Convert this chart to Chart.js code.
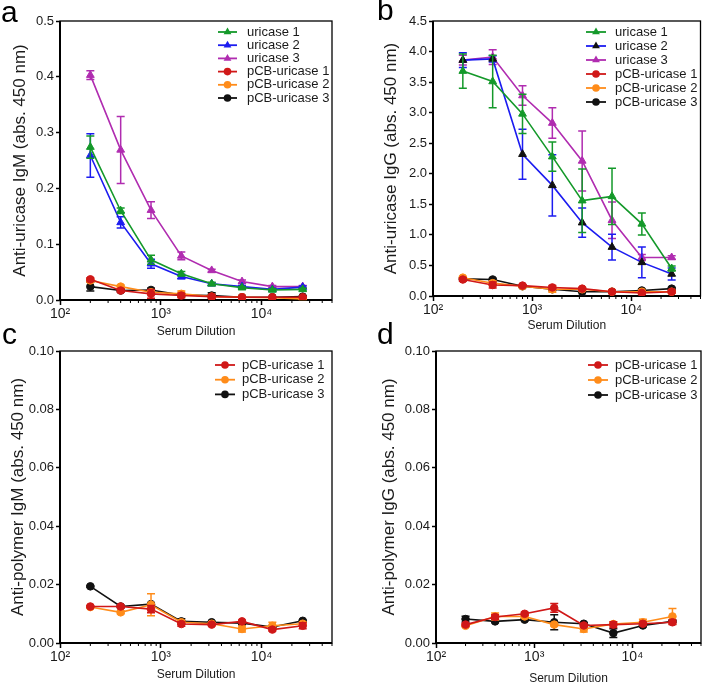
<!DOCTYPE html>
<html>
<head>
<meta charset="utf-8">
<script src="https://cdn.jsdelivr.net/npm/chart.js@4.4.1/dist/chart.umd.min.js"></script>
<style>
  body { margin: 0; background: #fff; width: 706px; height: 683px; position: relative; overflow: hidden;
         font-family: "Liberation Sans", Arial, sans-serif; }
  canvas { position: absolute; }
  .letter { position: absolute; font-size: 30px; line-height: 1; color: #000; }
</style>
</head>
<body>
<canvas id="chartA" width="353" height="340" style="left:0;top:0"></canvas>
<canvas id="chartB" width="353" height="340" style="left:353px;top:0"></canvas>
<canvas id="chartC" width="353" height="343" style="left:0;top:340px"></canvas>
<canvas id="chartD" width="353" height="343" style="left:353px;top:340px"></canvas>
<div class="letter" style="left:1px;top:-3px">a</div>
<div class="letter" style="left:377px;top:-5px">b</div>
<div class="letter" style="left:2px;top:319px">c</div>
<div class="letter" style="left:377px;top:319px">d</div>
<script>
// serum dilutions (x values) and axis ticks
const dilutions = [200, 400, 800, 1600, 3200, 6400, 12800, 25600];
const xTickValues = [100, 1000, 10000];
const xTickLabels = ['10\u00B2', '10\u00B3', '10\u2074'];
const minorTickValues = [200, 300, 400, 500, 600, 700, 800, 900,
  2000, 3000, 4000, 5000, 6000, 7000, 8000, 9000, 20000, 30000, 40000, 50000];

// panel a: anti-uricase IgM
const aUricase1 = [0.274, 0.160, 0.072, 0.047, 0.029, 0.022, 0.018, 0.019];
const aUricase1Err = [0.020, 0.005, 0.008, 0.004, 0.003, 0.002, 0.002, 0.002];
const aUricase2 = [0.259, 0.139, 0.065, 0.042, 0.029, 0.024, 0.019, 0.023];
const aUricase2Err = [0.039, 0.010, 0.008, 0.004, 0.002, 0.002, 0.002, 0.002];
const aUricase3 = [0.403, 0.269, 0.161, 0.079, 0.053, 0.033, 0.024, 0.024];
const aUricase3Err = [0.008, 0.060, 0.015, 0.007, 0.002, 0.003, 0.002, 0.002];
const aPcb1 = [0.037, 0.017, 0.011, 0.008, 0.006, 0.005, 0.005, 0.005];
const aPcb1Err = [0.003, 0.003, 0.008, 0.004, 0.003, 0.001, 0.001, 0.001];
const aPcb2 = [0.035, 0.024, 0.014, 0.011, 0.006, 0.005, 0.004, 0.002];
const aPcb2Err = [0.003, 0.003, 0.002, 0.005, 0.002, 0.001, 0.001, 0.001];
const aPcb3 = [0.024, 0.017, 0.018, 0.009, 0.008, 0.005, 0.005, 0.006];
const aPcb3Err = [0.008, 0.002, 0.003, 0.002, 0.005, 0.001, 0.001, 0.001];

// panel b: anti-uricase IgG
const bUricase1 = [3.68, 3.51, 2.98, 2.28, 1.56, 1.63, 1.18, 0.45];
const bUricase1Err = [0.28, 0.43, 0.32, 0.24, 0.52, 0.46, 0.18, 0.04];
const bUricase2 = [3.86, 3.88, 2.32, 1.81, 1.20, 0.80, 0.55, 0.36];
const bUricase2Err = [0.12, 0.05, 0.41, 0.50, 0.24, 0.21, 0.25, 0.10];
const bUricase3 = [3.86, 3.91, 3.28, 2.83, 2.21, 1.24, 0.63, 0.63];
const bUricase3Err = [0.08, 0.12, 0.16, 0.25, 0.49, 0.30, 0.05, 0.03];
const bPcb1 = [0.27, 0.18, 0.17, 0.14, 0.12, 0.07, 0.05, 0.07];
const bPcb1Err = [0.03, 0.05, 0.02, 0.03, 0.02, 0.02, 0.02, 0.02];
const bPcb2 = [0.30, 0.21, 0.16, 0.11, 0.11, 0.07, 0.07, 0.07];
const bPcb2Err = [0.02, 0.04, 0.02, 0.05, 0.02, 0.02, 0.02, 0.02];
const bPcb3 = [0.28, 0.27, 0.16, 0.11, 0.07, 0.07, 0.09, 0.12];
const bPcb3Err = [0.02, 0.02, 0.02, 0.02, 0.06, 0.02, 0.02, 0.02];

// panel c: anti-polymer IgM
const cPcb1 = [0.0125, 0.0125, 0.0116, 0.0065, 0.0063, 0.0074, 0.0046, 0.0059];
const cPcb1Err = [0.0003, 0.0004, 0.0012, 0.0008, 0.0004, 0.0004, 0.0005, 0.0010];
const cPcb2 = [0.0123, 0.0105, 0.0131, 0.0071, 0.0066, 0.0048, 0.0059, 0.0066];
const cPcb2Err = [0.0003, 0.0005, 0.0038, 0.0006, 0.0003, 0.0010, 0.0012, 0.0006];
const cPcb3 = [0.0194, 0.0125, 0.0133, 0.0074, 0.0071, 0.0068, 0.0055, 0.0076];
const cPcb3Err = [0.0003, 0.0003, 0.0005, 0.0009, 0.0003, 0.0003, 0.0003, 0.0003];

// panel d: anti-polymer IgG
const dPcb1 = [0.0063, 0.0089, 0.0100, 0.0120, 0.0060, 0.0063, 0.0066, 0.0071];
const dPcb1Err = [0.0005, 0.0008, 0.0005, 0.0015, 0.0004, 0.0010, 0.0006, 0.0008];
const dPcb2 = [0.0059, 0.0091, 0.0091, 0.0063, 0.0048, 0.0065, 0.0071, 0.0091];
const dPcb2Err = [0.0004, 0.0012, 0.0005, 0.0005, 0.0010, 0.0006, 0.0010, 0.0027];
const dPcb3 = [0.0082, 0.0074, 0.0080, 0.0071, 0.0066, 0.0034, 0.0060, 0.0074];
const dPcb3Err = [0.0010, 0.0004, 0.0004, 0.0026, 0.0004, 0.0015, 0.0004, 0.0004];

const green = '#14992a', blue = '#1c1cf0', purple = '#b02cb0',
      red = '#d01818', orange = '#ff8c1a', black = '#111111';

Chart.defaults.font.family = '"Liberation Sans", Arial, sans-serif';
Chart.defaults.color = '#1a1a1a';

function series(label, values, errors, color, style, markerColor) {
  return {
    label: label,
    data: values.map((v, i) => ({ x: dilutions[i], y: v })),
    errors: errors,
    borderColor: color,
    backgroundColor: color,
    borderWidth: 1.6,
    pointStyle: style,
    pointRadius: style === 'triangle' ? 4.5 : 3.8,
    pointBackgroundColor: markerColor || color,
    pointBorderColor: markerColor || color,
    pointBorderWidth: 1,
    tension: 0
  };
}

// error bars drawn under each dataset, using the chart's scales
const errorBars = {
  id: 'errorBars',
  beforeDatasetDraw(chart, args) {
    const ds = chart.data.datasets[args.index];
    if (!ds.errors) return;
    const { ctx, scales: { x, y } } = chart;
    ctx.save();
    ctx.strokeStyle = ds.borderColor;
    ctx.lineWidth = 1.5;
    ds.data.forEach((p, i) => {
      const e = ds.errors[i];
      const px = x.getPixelForValue(p.x);
      const top = y.getPixelForValue(p.y + e);
      const bot = y.getPixelForValue(p.y - e);
      ctx.beginPath();
      ctx.moveTo(px, top); ctx.lineTo(px, bot);
      ctx.moveTo(px - 4, top); ctx.lineTo(px + 4, top);
      ctx.moveTo(px - 4, bot); ctx.lineTo(px + 4, bot);
      ctx.stroke();
    });
    ctx.restore();
  }
};

// box around plot area (heavier left/bottom axes) and the minor log ticks
const frame = {
  id: 'frame',
  beforeDatasetsDraw(chart) {
    const { ctx, chartArea: a, scales: { x } } = chart;
    ctx.save();
    ctx.strokeStyle = '#000';
    ctx.lineWidth = 1.3;
    ctx.strokeRect(a.left, a.top, a.right - a.left, a.bottom - a.top);
    ctx.lineWidth = 2;
    ctx.beginPath();
    ctx.moveTo(a.left, a.top);
    ctx.lineTo(a.left, a.bottom);
    ctx.lineTo(a.right, a.bottom);
    ctx.stroke();
    ctx.lineWidth = 1;
    ctx.beginPath();
    minorTickValues.forEach(v => {
      const px = x.getPixelForValue(v);
      ctx.moveTo(px, a.bottom);
      ctx.lineTo(px, a.bottom + 3);
    });
    ctx.stroke();
    ctx.restore();
  }
};

function drawMarker(ctx, style, x, y, r) {
  ctx.beginPath();
  if (style === 'triangle') {
    for (let k = 0; k < 3; k++) {
      const ang = k * 2 * Math.PI / 3;
      const px = x + Math.sin(ang) * r, py = y - Math.cos(ang) * r;
      k === 0 ? ctx.moveTo(px, py) : ctx.lineTo(px, py);
    }
    ctx.closePath();
  } else {
    ctx.arc(x, y, r, 0, Math.PI * 2);
  }
  ctx.fill();
}

// legend inside the plot box
const panelLegend = {
  id: 'panelLegend',
  afterDraw(chart, args, opts) {
    const ctx = chart.ctx;
    ctx.save();
    ctx.font = opts.fontSize + 'px "Liberation Sans", Arial, sans-serif';
    ctx.textBaseline = 'middle';
    chart.data.datasets.forEach((ds, i) => {
      const y = opts.y + i * opts.step;
      ctx.strokeStyle = ds.borderColor;
      ctx.lineWidth = 1.8;
      ctx.beginPath();
      ctx.moveTo(opts.x, y); ctx.lineTo(opts.x + opts.len, y);
      ctx.stroke();
      ctx.fillStyle = ds.pointBackgroundColor;
      drawMarker(ctx, ds.pointStyle, opts.x + opts.len / 2, y, ds.pointStyle === 'triangle' ? 4.5 : 3.8);
      ctx.fillStyle = '#1a1a1a';
      ctx.fillText(ds.label, opts.textX, y);
    });
    ctx.restore();
  }
};

function makeChart(id, datasets, p) {
  return new Chart(document.getElementById(id), {
    type: 'line',
    data: { datasets: datasets },
    plugins: [frame, errorBars, panelLegend],
    options: {
      responsive: false,
      animation: false,
      devicePixelRatio: 1,
      layout: { padding: { left: 0, right: p.right, top: p.top, bottom: 0 } },
      plugins: {
        legend: { display: false },
        tooltip: { enabled: false },
        panelLegend: p.legend
      },
      scales: {
        x: {
          type: 'logarithmic',
          min: 100,
          max: 50000,
          bounds: 'data',
          afterBuildTicks: s => { s.ticks = xTickValues.map(v => ({ value: v })); },
          afterFit: s => { s.height = p.xHeight; },
          ticks: {
            callback: v => xTickLabels[xTickValues.indexOf(v)],
            font: { size: 14 },
            padding: 1,
            autoSkip: false,
            maxRotation: 0
          },
          grid: { drawOnChartArea: false, tickLength: 5, tickColor: '#000', tickWidth: 1.5 },
          border: { display: false },
          title: { display: true, text: 'Serum Dilution', font: { size: 12 }, padding: { top: 0, bottom: p.xTitlePad } }
        },
        y: {
          min: 0,
          max: p.yMax,
          afterFit: s => { s.width = p.yWidth; },
          ticks: {
            stepSize: p.yStep,
            callback: v => v.toFixed(p.yDec),
            font: { size: 13 },
            padding: 2
          },
          grid: { drawOnChartArea: false, tickLength: 4, tickColor: '#000', tickWidth: 1.5 },
          border: { display: false },
          title: { display: true, text: p.yTitle, font: { size: 17 }, padding: { top: p.yTitlePad, bottom: 0 } }
        }
      }
    }
  });
}

makeChart('chartA', [
  series('uricase 1', aUricase1, aUricase1Err, green, 'triangle'),
  series('uricase 2', aUricase2, aUricase2Err, blue, 'triangle'),
  series('uricase 3', aUricase3, aUricase3Err, purple, 'triangle'),
  series('pCB-uricase 1', aPcb1, aPcb1Err, red, 'circle'),
  series('pCB-uricase 2', aPcb2, aPcb2Err, orange, 'circle'),
  series('pCB-uricase 3', aPcb3, aPcb3Err, black, 'circle')
], {
  right: 21, top: 21, xHeight: 40, yWidth: 60, yMax: 0.5, yStep: 0.1, yDec: 1,
  yTitle: 'Anti-uricase IgM (abs. 450 nm)', yTitlePad: 10, xTitlePad: 1,
  legend: { x: 218, y: 32, step: 13.2, len: 19, textX: 247, fontSize: 13 }
});

makeChart('chartB', [
  series('uricase 1', bUricase1, bUricase1Err, green, 'triangle'),
  series('uricase 2', bUricase2, bUricase2Err, blue, 'triangle', black),
  series('uricase 3', bUricase3, bUricase3Err, purple, 'triangle'),
  series('pCB-uricase 1', bPcb1, bPcb1Err, red, 'circle'),
  series('pCB-uricase 2', bPcb2, bPcb2Err, orange, 'circle'),
  series('pCB-uricase 3', bPcb3, bPcb3Err, black, 'circle')
], {
  right: 3, top: 21, xHeight: 44, yWidth: 80, yMax: 4.5, yStep: 0.5, yDec: 1,
  yTitle: 'Anti-uricase IgG (abs. 450 nm)', yTitlePad: 28, xTitlePad: 7,
  legend: { x: 233, y: 32, step: 14, len: 20, textX: 262, fontSize: 13 }
});

makeChart('chartC', [
  series('pCB-uricase 1', cPcb1, cPcb1Err, red, 'circle'),
  series('pCB-uricase 2', cPcb2, cPcb2Err, orange, 'circle'),
  series('pCB-uricase 3', cPcb3, cPcb3Err, black, 'circle')
], {
  right: 21, top: 11, xHeight: 40, yWidth: 60, yMax: 0.1, yStep: 0.02, yDec: 2,
  yTitle: 'Anti-polymer IgM (abs. 450 nm)', yTitlePad: 8, xTitlePad: 1,
  legend: { x: 215, y: 25, step: 14.7, len: 20, textX: 242, fontSize: 13 }
});

makeChart('chartD', [
  series('pCB-uricase 1', dPcb1, dPcb1Err, red, 'circle'),
  series('pCB-uricase 2', dPcb2, dPcb2Err, orange, 'circle'),
  series('pCB-uricase 3', dPcb3, dPcb3Err, black, 'circle')
], {
  right: 1, top: 11, xHeight: 40, yWidth: 83, yMax: 0.1, yStep: 0.02, yDec: 2,
  yTitle: 'Anti-polymer IgG (abs. 450 nm)', yTitlePad: 26, xTitlePad: -3,
  legend: { x: 235, y: 25, step: 15, len: 20, textX: 262, fontSize: 13 }
});
</script>
</body>
</html>
